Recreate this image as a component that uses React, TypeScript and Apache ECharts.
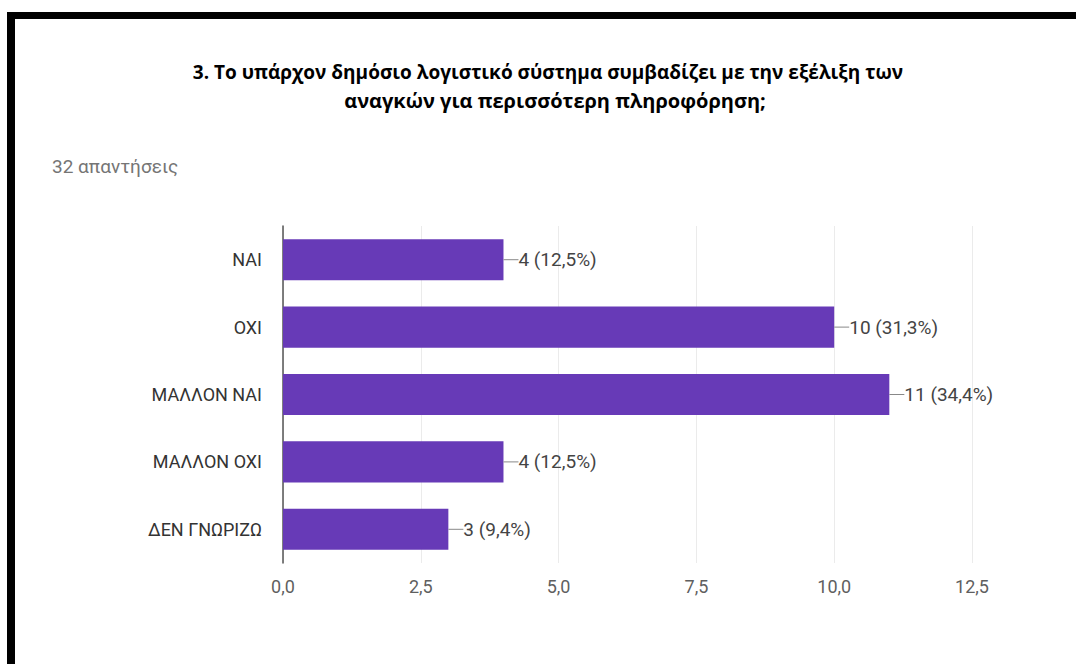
import React, { useEffect, useRef } from "react";
import * as echarts from "echarts";

const titleLines = [
  "3. Το υπάρχον δημόσιο λογιστικό σύστημα συμβαδίζει με την εξέλιξη των",
  "αναγκών για περισσότερη πληροφόρηση;",
];
const subtitle = "32 απαντήσεις";
const categories = ["ΝΑΙ", "ΟΧΙ", "ΜΑΛΛΟΝ ΝΑΙ", "ΜΑΛΛΟΝ ΟΧΙ", "ΔΕΝ ΓΝΩΡΙΖΩ"];
const counts = [4, 10, 11, 4, 3];
const percents = ["12,5%", "31,3%", "34,4%", "12,5%", "9,4%"];
const xTickLabels = ["0,0", "2,5", "5,0", "7,5", "10,0", "12,5"];

export default function App() {
  const ref = useRef<HTMLDivElement>(null);
  useEffect(() => {
    document.body.style.margin = "0";
    const chart = echarts.init(ref.current!, null, { renderer: "svg" });
    const titleStyle = {
      fontFamily: "Open Sans",
      fontWeight: "bold",
      fontSize: 19,
      lineHeight: 28,
      color: "#000",
    };
    chart.setOption({
      animation: false,
      backgroundColor: "#fff",
      title: [
        {
          text: titleLines[0],
          left: 548,
          top: 58,
          padding: 0,
          textAlign: "center",
          textStyle: titleStyle,
        },
        {
          text: titleLines[1],
          left: 555,
          top: 86,
          padding: 0,
          textAlign: "center",
          textStyle: { ...titleStyle, fontSize: 20 },
        },
        {
          text: subtitle,
          left: 52,
          top: 157,
          padding: 0,
          textStyle: {
            fontFamily: "Roboto",
            fontWeight: "normal",
            fontSize: 19,
            color: "#757575",
          },
        },
      ],
      graphic: [
        { type: "rect", shape: { x: 7, y: 12, width: 1069, height: 7 }, style: { fill: "#000" } },
        { type: "rect", shape: { x: 7, y: 12, width: 8, height: 652 }, style: { fill: "#000" } },
      ],
      grid: { left: 283, right: 104, top: 226, bottom: 101 },
      xAxis: {
        type: "value",
        min: 0,
        max: 12.5,
        interval: 2.5,
        axisLine: { show: false },
        axisTick: { show: false },
        splitLine: { show: true, lineStyle: { color: "#ebebeb", width: 1 } },
        axisLabel: {
          margin: 14,
          fontFamily: "Roboto",
          fontSize: 18,
          color: "#5f5f5f",
          formatter: (v: number) => xTickLabels[Math.round(v / 2.5)] ?? "",
        },
      },
      yAxis: {
        type: "category",
        inverse: true,
        data: categories,
        axisLine: { show: true, lineStyle: { color: "#555", width: 1.5 } },
        axisTick: { show: false },
        axisLabel: {
          margin: 21,
          fontFamily: "Roboto",
          fontSize: 18,
          color: "#333",
        },
      },
      series: [
        {
          type: "bar",
          data: counts,
          barCategoryGap: "39%",
          itemStyle: { color: "#673ab7" },
          label: {
            show: true,
            position: "right",
            distance: 0,
            formatter: (p: any) => `{l| }{t|${counts[p.dataIndex]} (${percents[p.dataIndex]})}`,
            rich: {
              l: { width: 15, height: 1, backgroundColor: "#888" },
              t: { fontFamily: "Roboto", fontSize: 19, color: "#444" },
            },
          },
        },
      ],
    });
    return () => chart.dispose();
  }, []);
  return <div ref={ref} style={{ width: 1076, height: 664 }} />;
}
